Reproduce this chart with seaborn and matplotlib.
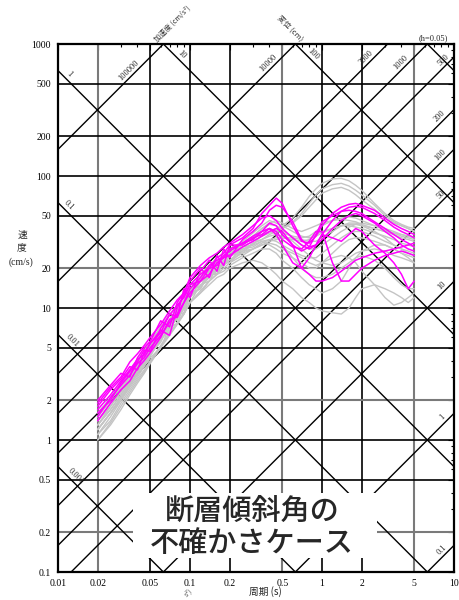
import numpy as np
import pandas as pd
import matplotlib
matplotlib.use("Agg")
import matplotlib.pyplot as plt
import matplotlib.ticker as mticker
import seaborn as sns

# ---------------- data ----------------
periods = [0.02, 0.025, 0.03, 0.035, 0.04, 0.045, 0.05, 0.06, 0.07, 0.08, 0.09, 0.1,
           0.12, 0.14, 0.16, 0.18, 0.2, 0.25, 0.3, 0.35, 0.4, 0.45, 0.5, 0.6, 0.7, 0.8,
           0.9, 1.0, 1.2, 1.4, 1.6, 1.8, 2.0, 2.5, 3.0, 3.5, 4.0, 4.5, 5.0]

# uncertainty cases (magenta)
m1 = [2.0, 2.6, 3.2, 3.0, 4.2, 5.0, 5.6, 8.0, 7.2, 11, 13, 16, 20, 17, 25, 21, 30, 34, 40, 52, 60, 68, 62, 42, 32, 31, 35, 42, 52, 58, 61, 62, 60, 55, 48, 43, 40, 38, 36]
m2 = [1.8, 2.4, 2.9, 3.6, 3.4, 4.6, 5.4, 6.5, 9.0, 8.6, 14, 12, 19, 23, 19, 28, 24, 33, 38, 44, 55, 60, 58, 45, 33, 29, 30, 36, 46, 54, 58, 59, 58, 52, 46, 41, 38, 36, 34]
m3 = [1.5, 2.1, 2.6, 3.1, 3.8, 4.2, 5.0, 6.2, 7.8, 9, 11, 14, 17, 21, 23, 24, 28, 31, 35, 38, 44, 42, 36, 30, 27, 29, 36, 45, 50, 54, 55, 54, 52, 45, 40, 36, 33, 31, 29]
m4 = [1.6, 2.0, 2.7, 3.3, 3.9, 4.8, 4.7, 7.0, 8.8, 10.5, 12, 15, 16, 20, 24, 26, 30, 30, 34, 36, 40, 38, 33, 29, 28, 32, 38, 38, 22, 16, 16, 18, 20, 23, 25, 26, 27, 26, 25]
m5 = [1.4, 1.9, 2.4, 2.8, 3.5, 4.0, 4.6, 6.0, 8.2, 8.5, 11, 13, 16, 18, 22, 24, 25, 29, 32, 35, 38, 40, 38, 30, 20, 24, 30, 36, 34, 32, 36, 40, 38, 30, 26, 22, 18, 14, 16]
m6 = [1.7, 2.2, 2.8, 3.4, 4.1, 4.4, 5.4, 6.8, 6.2, 10, 12.5, 15, 18, 20, 21, 25, 27, 31, 33, 38, 40, 36, 30, 22, 20, 18, 16, 16, 17, 19, 21, 23, 24, 26, 27, 28, 29, 30, 31]
m7 = [1.9, 2.5, 3.0, 3.9, 4.5, 5.2, 6.0, 7.5, 9.5, 11.5, 13, 17, 21, 24, 26, 29, 31, 36, 42, 48, 50, 46, 40, 34, 30, 28, 30, 33, 40, 46, 50, 52, 50, 44, 38, 34, 30, 28, 27]

# other cases (gray)
g1 = [1.2, 1.6, 2.1, 2.6, 3.2, 3.8, 4.4, 6.4, 6.6, 9.2, 9.0, 13, 14, 19, 18, 23, 22, 29, 30, 36, 38, 40, 42, 48, 58, 70, 80, 88, 95, 96, 92, 85, 78, 62, 52, 46, 43, 41, 40]
g2 = [1.3, 1.7, 2.2, 2.8, 3.4, 4.0, 4.8, 6.0, 7.5, 9, 11, 13, 16, 19, 21, 24, 26, 30, 34, 38, 40, 38, 40, 45, 52, 62, 72, 80, 86, 88, 84, 78, 72, 60, 50, 45, 42, 40, 38]
g3 = [1.1, 1.5, 2.0, 2.5, 3.0, 3.6, 4.2, 5.0, 7.2, 7.6, 10.5, 11, 15, 16, 20, 21, 25, 27, 31, 33, 36, 38, 40, 44, 50, 58, 66, 74, 80, 82, 78, 72, 66, 56, 48, 44, 42, 40, 38]
g4 = [1.4, 1.9, 2.4, 3.0, 3.6, 4.2, 5.0, 6.5, 8, 9.5, 11, 14, 17, 20, 23, 25, 27, 31, 35, 40, 44, 46, 44, 40, 38, 40, 42, 44, 46, 47, 46, 45, 43, 40, 38, 36, 34, 33, 32]
g5 = [1.2, 1.6, 2.0, 2.6, 3.1, 3.7, 4.3, 5.9, 6.6, 8.9, 9.2, 12.5, 14, 18, 18, 22, 22, 27, 28, 31, 33, 34, 34, 33, 32, 33, 36, 38, 40, 42, 42, 41, 40, 37, 35, 33, 31, 30, 29]
g6 = [1.0, 1.3, 1.7, 2.2, 2.7, 3.2, 3.8, 5.0, 6.2, 7.5, 9, 11, 13, 15, 17, 18, 20, 22, 23, 22, 20, 18, 16, 14, 12, 11, 10, 9.5, 9.2, 9.0, 10, 12, 14, 15, 14, 13, 12, 11, 12]
g7 = [1.3, 1.8, 2.3, 2.9, 3.5, 4.2, 4.9, 6.4, 7.8, 9.3, 11, 13.5, 16, 19, 21, 23, 25, 28, 30, 32, 30, 28, 26, 24, 22, 20, 20, 22, 26, 30, 33, 34, 34, 32, 30, 28, 26, 25, 24]
g8 = [1.5, 2.0, 2.6, 3.2, 3.8, 4.5, 5.2, 7.2, 7.8, 10.6, 10.8, 15, 16, 21, 21, 25, 25, 31, 33, 38, 40, 36, 30, 24, 20, 18, 17, 17, 18, 20, 22, 24, 25, 23, 20, 17, 15, 14, 14]
g9 = [1.1, 1.4, 1.9, 2.4, 2.9, 3.4, 4.0, 5.2, 6.5, 7.8, 9.2, 11, 13.5, 16, 18, 20, 22, 25, 28, 30, 32, 33, 34, 34, 33, 32, 32, 34, 38, 42, 44, 44, 42, 38, 34, 30, 28, 26, 25]
g10 = [1.6, 2.1, 2.7, 3.4, 4.0, 4.8, 5.6, 7.2, 9, 10.5, 12, 15, 18, 21, 24, 26, 28, 32, 37, 42, 46, 44, 42, 38, 35, 34, 35, 37, 40, 42, 43, 43, 42, 40, 38, 37, 36, 35, 34]
g11 = [1.2, 1.6, 2.1, 2.7, 3.3, 3.9, 4.5, 5.5, 7.6, 8.2, 10.6, 12, 15.8, 17, 21, 21, 25, 26, 31, 33, 35, 36, 35, 32, 28, 25, 23, 22, 21, 22, 24, 26, 27, 28, 27, 25, 24, 23, 22]
g12 = [1.0, 1.35, 1.8, 2.3, 2.8, 3.3, 3.9, 5.1, 6.3, 7.6, 9, 11, 13, 16, 18, 19, 21, 24, 26, 28, 28, 26, 23, 20, 17, 15, 14, 13, 14, 16, 20, 24, 27, 30, 30, 28, 26, 24, 22]
g13 = [1.4, 1.8, 2.4, 3.0, 3.7, 4.3, 5.0, 6.5, 8, 9.6, 11, 13.5, 16.5, 19, 22, 24, 26, 29, 32, 35, 37, 38, 37, 35, 34, 35, 38, 42, 46, 48, 49, 48, 46, 42, 39, 37, 35, 34, 33]
g14 = [1.3, 1.7, 2.2, 2.8, 3.4, 4.0, 4.7, 6.6, 7.1, 9.6, 10.0, 13.8, 14.6, 19, 19, 23, 23, 28, 29, 32, 33, 32, 30, 27, 25, 24, 24, 26, 30, 34, 37, 38, 38, 35, 32, 30, 28, 27, 26]
g15 = [1.2, 1.6, 2.1, 2.6, 3.2, 3.8, 4.4, 5.7, 7, 8.3, 9.8, 12, 14.5, 17, 19, 21, 23, 26, 28, 30, 31, 30, 28, 26, 24, 22, 21, 22, 24, 25, 24, 22, 19, 15, 12, 10.5, 11, 12, 13]
g16 = [1.5, 2.0, 2.5, 3.1, 3.8, 4.4, 5.1, 6.6, 8.2, 9.8, 11.5, 14, 17, 20, 22.5, 24.5, 27, 31, 35, 40, 43, 42, 39, 34, 30, 28, 28, 30, 34, 38, 41, 43, 44, 42, 40, 38, 36, 35, 34]

magenta_curves = [m1, m2, m3, m4, m5, m6, m7]
gray_curves = [g1, g2, g3, g4, g5, g6, g7, g8, g9, g10, g11, g12, g13, g14, g15, g16]

x_ticks = [0.01, 0.02, 0.05, 0.1, 0.2, 0.5, 1, 2, 5, 10]
x_ticklabels = ["0.01", "0.02", "0.05", "0.1", "0.2", "0.5", "1", "2", "5", "10"]
y_ticks = [0.1, 0.2, 0.5, 1, 2, 5, 10, 20, 50, 100, 200, 500, 1000]
y_ticklabels = ["0.1", "0.2", "0.5", "1", "2", "5", "10", "20", "50", "100", "200", "500", "1000"]

disp_values = [0.001, 0.01, 0.1, 1, 10, 100, 1000]          # cm (descending lines)
acc_values = [0.1, 1, 10, 50, 100, 200, 500, 1000, 2000, 10000, 100000]  # cm/s2 (ascending)
disp_labels = [("1", 1, 0.0113), ("0.1", 0.1, 0.0113), ("0.01", 0.01, 0.0119),
               ("0.001", 0.001, 0.0127), ("10", 10, 0.081), ("100", 100, 0.80)]
acc_labels = [("100000", 100000, 0.0369), ("10000", 10000, 0.418), ("2000", 2000, 2.3),
              ("1000", 1000, 4.26), ("500", 500, 8.9), ("200", 200, 8.3), ("100", 100, 8.4),
              ("50", 50, 8.5), ("10", 10, 8.7), ("1", 1, 8.7), ("0.1", 0.1, 8.7)]

title_box = "断層傾斜角の\n不確かさケース"

# ---------------- figure ----------------
sns.set_theme(style="white")
plt.rcParams["font.family"] = ["Liberation Serif", "Noto Sans CJK JP", "DejaVu Sans"]

W, H = 460, 600
fig = plt.figure(figsize=(W / 100, H / 100), dpi=100)
L, R, T_, B = 58, 454, 44, 572
ax = fig.add_axes([L / W, 1 - B / H, (R - L) / W, (B - T_) / H])
ax.set_xscale("log")
ax.set_yscale("log")
ax.set_xlim(0.01, 10)
ax.set_ylim(0.1, 1000)
ax.set_facecolor("white")

# grid lines
gray_x = {0.02, 0.5, 5}
gray_y = {0.2, 2, 20}
for xv in x_ticks[1:-1]:
    ax.axvline(xv, color="#7a7a7a" if xv in gray_x else "black",
               lw=1.5 if xv in gray_x else 1.2, zorder=1)
for yv in y_ticks[1:-1]:
    ax.axhline(yv, color="#7a7a7a" if yv in gray_y else "black",
               lw=1.5 if yv in gray_y else 1.2, zorder=1)

# tripartite diagonal lines
tl = np.logspace(-2, 1, 200)
for d in disp_values:
    ax.plot(tl, 2 * np.pi * d / tl, color="black", lw=1.0, zorder=1)
for a in acc_values:
    ax.plot(tl, a * tl / (2 * np.pi), color="black", lw=1.0, zorder=1)

for txt, d, tp in disp_labels:
    ax.annotate(txt, xy=(tp, 2 * np.pi * d / tp), xytext=(2.8, 2.8),
                textcoords="offset points", rotation=-45, ha="center", va="center",
                fontsize=6, zorder=3)
for txt, a, tp in acc_labels:
    ax.annotate(txt, xy=(tp, a * tp / (2 * np.pi)), xytext=(-2.8, 2.8),
                textcoords="offset points", rotation=45, ha="center", va="center",
                fontsize=6, zorder=3)

# spectra
rows = []
for i, c in enumerate(gray_curves):
    for t, v in zip(periods, c):
        rows.append(("g%d" % i, "other", t, v))
for i, c in enumerate(magenta_curves):
    for t, v in zip(periods, c):
        rows.append(("m%d" % i, "case", t, v))
df = pd.DataFrame(rows, columns=["case", "group", "T", "Sv"])

sns.lineplot(data=df[df.group == "other"], x="T", y="Sv", units="case", estimator=None,
             color="#c4c4c4", lw=1.0, ax=ax, legend=False, zorder=4)
sns.lineplot(data=df[df.group == "case"], x="T", y="Sv", units="case", estimator=None,
             color="#ff00ff", lw=1.1, ax=ax, legend=False, zorder=5)

# ticks
ax.xaxis.set_major_locator(mticker.FixedLocator(x_ticks))
ax.xaxis.set_major_formatter(mticker.FixedFormatter(x_ticklabels))
ax.yaxis.set_major_locator(mticker.FixedLocator(y_ticks))
ax.yaxis.set_major_formatter(mticker.FixedFormatter(y_ticklabels))
ax.xaxis.set_minor_locator(mticker.LogLocator(base=10, subs=np.arange(2, 10)))
ax.yaxis.set_minor_locator(mticker.LogLocator(base=10, subs=np.arange(2, 10)))
ax.xaxis.set_minor_formatter(mticker.NullFormatter())
ax.yaxis.set_minor_formatter(mticker.NullFormatter())
ax.tick_params(which="both", direction="in", top=True, right=True, labelsize=7,
               colors="black", width=0.8)
ax.tick_params(which="major", length=4, pad=5)
ax.tick_params(which="minor", length=2.5)
ax.set_xlabel("")
ax.set_ylabel("")
for s in ax.spines.values():
    s.set_color("black")
    s.set_linewidth(1.6)
    s.set_zorder(10)

# white text box
ax.add_patch(plt.Rectangle(((133 - L) / (R - L), (B - 558) / (B - T_)),
                           (377 - 133) / (R - L), (558 - 493) / (B - T_),
                           transform=ax.transAxes, facecolor="white", edgecolor="none",
                           zorder=8))
ax.text((252 - L) / (R - L), (B - 527) / (B - T_), title_box, transform=ax.transAxes,
        ha="center", va="center", fontsize=21, linespacing=1.05, fontweight="medium",
        family=["Noto Sans CJK JP", "DejaVu Sans"], zorder=9)

# labels
cjk = ["Noto Sans CJK JP", "DejaVu Sans"]
fig.text(22 / W, 1 - 235 / H, "速", ha="center", va="center", fontsize=7, family=cjk)
fig.text(22 / W, 1 - 247 / H, "度", ha="center", va="center", fontsize=7, family=cjk)
fig.text(21 / W, 1 - 262 / H, "(cm/s)", ha="center", va="center", fontsize=7)
fig.text(265 / W, 1 - 592 / H, "周期 (s)", ha="center", va="center", fontsize=7,
         family=["Noto Sans CJK JP", "Liberation Serif"])
fig.text(433 / W, 1 - 38 / H, "(h=0.05)", ha="center", va="center", fontsize=6)
fig.text(158 / W, 1 - 43 / H, "加速度 (cm/s²)", ha="left", va="bottom", fontsize=5.2,
         rotation=45, rotation_mode="anchor", family=cjk, color="#333333")
fig.text(299 / W, 1 - 43 / H, "変位 (cm)", ha="right", va="bottom", fontsize=5.5,
         rotation=-45, rotation_mode="anchor", family=cjk, color="#333333")
fig.text(188 / W, 1 - 598 / H, "s²)", ha="left", va="bottom", fontsize=5,
         rotation=45, rotation_mode="anchor", family=cjk, color="#555555")

fig.savefig("out.png", dpi=100, facecolor="white")
